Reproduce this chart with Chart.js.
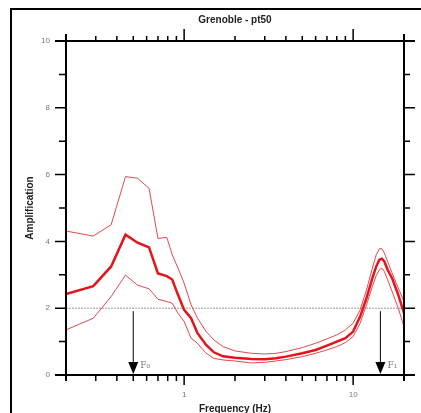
<!DOCTYPE html>
<html>
<head>
<meta charset="utf-8">
<script src="https://cdn.jsdelivr.net/npm/chart.js@4"></script>
<style>
  html, body { margin: 0; padding: 0; background: #fff; }
  #wrap { width: 421px; height: 413px; }
</style>
</head>
<body>
<div id="wrap"><canvas id="hvsr"></canvas></div>
<script>
// Data
const freqs = [0.2, 0.29, 0.37, 0.45, 0.53, 0.62, 0.7, 0.79, 0.85, 0.92, 1.0, 1.1, 1.2, 1.35, 1.5, 1.7, 2.0, 2.5, 3.0, 3.5, 4.0, 5.0, 6.0, 7.0, 8.0, 9.0, 10, 11, 12, 13, 13.7, 14.3, 14.8, 15.3, 16, 17, 18.5, 20];
const meanAmp = [2.42, 2.66, 3.25, 4.2, 3.96, 3.82, 3.04, 2.96, 2.86, 2.4, 1.95, 1.7, 1.25, 0.9, 0.68, 0.56, 0.52, 0.48, 0.47, 0.5, 0.55, 0.65, 0.75, 0.88, 1.0, 1.1, 1.3, 1.75, 2.3, 2.9, 3.25, 3.45, 3.48, 3.4, 3.15, 2.9, 2.4, 1.85];
const upperAmp = [4.31, 4.16, 4.5, 5.94, 5.89, 5.59, 4.09, 4.12, 3.6, 3.2, 2.75, 2.1, 1.7, 1.3, 1.05, 0.85, 0.72, 0.65, 0.63, 0.65, 0.7, 0.82, 0.95, 1.08, 1.2, 1.35, 1.55, 1.95, 2.55, 3.2, 3.6, 3.78, 3.78, 3.65, 3.4, 3.05, 2.6, 2.2];
const lowerAmp = [1.35, 1.7, 2.35, 2.99, 2.69, 2.58, 2.27, 2.2, 2.15, 1.85, 1.6, 1.1, 0.95, 0.65, 0.5, 0.45, 0.42, 0.36, 0.38, 0.42, 0.46, 0.55, 0.65, 0.75, 0.85, 0.97, 1.15, 1.55, 2.1, 2.65, 2.98, 3.15, 3.2, 3.1, 2.85, 2.5, 2.0, 1.45];

const xTicks = [0.2, 0.3, 0.4, 0.5, 0.6, 0.7, 0.8, 0.9, 1, 2, 3, 4, 5, 6, 7, 8, 9, 10, 20];
const xLabels = { 1: '1', 10: '10' };
const yTicks = [0, 1, 2, 3, 4, 5, 6, 7, 8, 9, 10];
const yLabels = [0, 2, 4, 6, 8, 10];
const threshold = 2;
const peaks = [{ f: 0.5, name: 'F\u2080' }, { f: 14.5, name: 'F\u2081' }];

const toPoints = (vals) => vals.map((v, i) => ({ x: freqs[i], y: v }));

// Axes, ticks, frame and annotations drawn by hand
const framePlugin = {
  id: 'frame',
  beforeDatasetsDraw(chart) {
    const { ctx, chartArea: a, scales } = chart;
    const y2 = scales.y.getPixelForValue(threshold);
    ctx.save();
    ctx.strokeStyle = '#9a9a9a';
    ctx.lineWidth = 1;
    ctx.setLineDash([2, 1]);
    ctx.beginPath();
    ctx.moveTo(a.left, y2);
    ctx.lineTo(a.right, y2);
    ctx.stroke();
    ctx.restore();
  },
  afterDraw(chart) {
    const { ctx, chartArea: a, scales } = chart;
    const x = scales.x, y = scales.y;
    ctx.save();

    // outer frame
    ctx.strokeStyle = '#000';
    ctx.lineWidth = 2;
    ctx.beginPath();
    ctx.moveTo(11, 413);
    ctx.lineTo(11, 9);
    ctx.lineTo(421, 9);
    ctx.stroke();

    // axis box
    ctx.lineWidth = 2;
    ctx.beginPath();
    ctx.moveTo(a.left, a.top - 7); ctx.lineTo(a.left, a.bottom + 6);
    ctx.moveTo(a.right, a.top - 7); ctx.lineTo(a.right, a.bottom + 6);
    ctx.moveTo(a.left - 11, a.top); ctx.lineTo(a.right + 11, a.top);
    ctx.moveTo(a.left - 11, a.bottom); ctx.lineTo(a.right + 11, a.bottom);
    ctx.stroke();

    // ticks
    ctx.lineWidth = 1.5;
    ctx.beginPath();
    yTicks.forEach(v => {
      const py = y.getPixelForValue(v);
      const major = yLabels.includes(v);
      ctx.moveTo(a.left, py); ctx.lineTo(a.left - (major ? 11 : 7), py);
      ctx.moveTo(a.right, py); ctx.lineTo(a.right + (major ? 11 : 6), py);
    });
    xTicks.forEach(v => {
      if (v === xTicks[0] || v === xTicks[xTicks.length - 1]) return;
      const px = x.getPixelForValue(v);
      const major = xLabels[v] !== undefined;
      ctx.moveTo(px, a.bottom); ctx.lineTo(px, a.bottom + (major ? 10 : 6));
      ctx.moveTo(px, a.top); ctx.lineTo(px, a.top - (major ? 12 : 5));
    });
    ctx.stroke();

    // title
    ctx.fillStyle = '#222';
    ctx.font = 'bold 10px "Liberation Sans", Arial, sans-serif';
    ctx.textAlign = 'center';
    ctx.textBaseline = 'middle';
    ctx.fillText('Grenoble - pt50', (a.left + a.right) / 2, 20);

    // peak arrows
    peaks.forEach(p => {
      const px = x.getPixelForValue(p.f);
      const top = y.getPixelForValue(threshold) + 3;
      ctx.strokeStyle = '#000';
      ctx.lineWidth = 1;
      ctx.beginPath();
      ctx.moveTo(px, top);
      ctx.lineTo(px, a.bottom - 10);
      ctx.stroke();
      ctx.fillStyle = '#000';
      ctx.beginPath();
      ctx.moveTo(px - 5, a.bottom - 13);
      ctx.lineTo(px + 5, a.bottom - 13);
      ctx.lineTo(px, a.bottom - 1);
      ctx.closePath();
      ctx.fill();
      ctx.fillStyle = '#777';
      ctx.font = '9px "DejaVu Serif", serif';
      ctx.textAlign = 'left';
      ctx.fillText(p.name, px + 7, a.bottom - 9);
    });
    ctx.restore();
  }
};

const data = {
  datasets: [
    {
      label: 'Mean',
      data: toPoints(meanAmp),
      borderColor: '#e3141b',
      borderWidth: 2.5,
      order: 0
    },
    {
      label: 'Mean + std',
      data: toPoints(upperAmp),
      borderColor: 'rgba(222,40,45,0.85)',
      borderWidth: 1,
      order: 1
    },
    {
      label: 'Mean - std',
      data: toPoints(lowerAmp),
      borderColor: 'rgba(222,40,45,0.85)',
      borderWidth: 1,
      order: 1
    }
  ]
};

const config = {
  type: 'line',
  data: data,
  options: {
    responsive: false,
    animation: false,
    layout: { padding: { left: 18, top: 41, right: 17, bottom: 0 } },
    elements: {
      point: { radius: 0 },
      line: { tension: 0, fill: false }
    },
    plugins: {
      legend: { display: false },
      tooltip: { enabled: false }
    },
    scales: {
      x: {
        type: 'logarithmic',
        min: 0.2,
        max: 20,
        afterBuildTicks: (scale) => { scale.ticks = xTicks.map(v => ({ value: v })); },
        afterFit: (scale) => { scale.height = 38; },
        grid: { display: false, drawTicks: false },
        border: { display: false },
        ticks: {
          autoSkip: false,
          maxRotation: 0,
          padding: 15,
          color: '#777',
          font: { size: 8, family: '"Liberation Sans", Arial, sans-serif' },
          callback: (v) => xLabels[v] || ''
        },
        title: {
          display: true,
          text: 'Frequency (Hz)',
          color: '#222',
          font: { size: 10, weight: 'bold', family: '"Liberation Sans", Arial, sans-serif' },
          padding: { top: 0, bottom: -2 }
        }
      },
      y: {
        min: 0,
        max: 10,
        afterBuildTicks: (scale) => { scale.ticks = yTicks.map(v => ({ value: v })); },
        afterFit: (scale) => { scale.width = 48; },
        grid: { display: false, drawTicks: false },
        border: { display: false },
        ticks: {
          padding: 16,
          color: '#777',
          font: { size: 8, family: '"Liberation Sans", Arial, sans-serif' },
          callback: (v) => yLabels.includes(v) ? String(v) : ''
        },
        title: {
          display: true,
          text: 'Amplification',
          color: '#222',
          font: { size: 10, weight: 'bold', family: '"Liberation Sans", Arial, sans-serif' },
          padding: { top: 6, bottom: 0 }
        }
      }
    }
  },
  plugins: [framePlugin]
};

const canvas = document.getElementById('hvsr');
canvas.width = 421;
canvas.height = 413;
new Chart(canvas.getContext('2d'), config);
</script>
</body>
</html>
